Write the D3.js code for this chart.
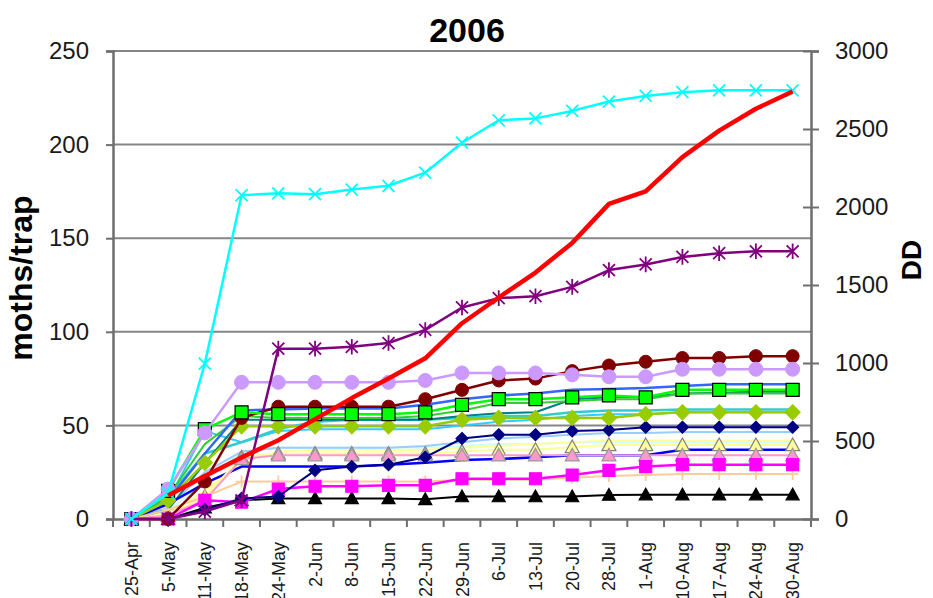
<!DOCTYPE html>
<html>
<head>
<meta charset="utf-8">
<script src="https://cdn.jsdelivr.net/npm/d3@7/dist/d3.min.js"></script>
<style>
  html, body { margin: 0; padding: 0; background: #fff; overflow: hidden; }
  svg { display: block; font-family: "Liberation Sans", Arial, sans-serif; }
</style>
</head>
<body>
<svg id="chart" width="933" height="598"></svg>
<script>
// ---- data ----
const categories = ["25-Apr","5-May","11-May","18-May","24-May","2-Jun","8-Jun","15-Jun","22-Jun","29-Jun","6-Jul","13-Jul","20-Jul","28-Jul","1-Aug","10-Aug","17-Aug","24-Aug","30-Aug"];
const leftTicks = [0, 50, 100, 150, 200, 250];
const rightTicks = [0, 500, 1000, 1500, 2000, 2500, 3000];

const lightCyan   = [0,4,20,36,38,38,38,38,38,39,40,40,41,41,41,41,41,41,41];
const lightYellow = [0,3,15,30,36,37,37,37,37,38,39,40,41,42,42,42,42,42,42];
const lightBlue   = [0,6,25,36,38,38,38,38,39,41,43,44,45,46,46,46.5,46.5,46.5,46.5];
const skyBlue     = [0,10,47,41,47,48,48,48,48,50,52,53,55,56,56,57,57,57,57];
const turquoise   = [0,12,35,41,48,52,53,53,53,54,55,55,57,58,58,58.5,58.5,58.5,58.5];
const teal        = [0,5,30,53,53,53,53,53,53,55,56.5,57,64,65,65,67,67.5,68,68];
const green2      = [0,12,40,55,54,54,54,54,55,58,62,62,63,64,64,67,67,67,67];
const royalBlue   = [0,10,35,58,58.5,59,59,59,61,64,66,67,69,69.5,70,71,72,72,72];
const blue        = [0,8,19,28,28,28,28,29,30,31.5,32,33,34,34,34,37,37,37,37];
const yellowTri   = [0,2,12,33,35,35,35,35,35,36,37,37,38.5,39.5,39.5,39.5,39.5,39.5,39.5];
const pinkTri     = [0,2,10,32,34,34,34,34,34,34,34,34,34,34,34,34,34,34,34];
const blackTri    = [0,0,6,10,11,11,11,11,10.5,12,12,12,12,12.8,13,13,13,13,13];
const magenta     = [0,0,10,9,16,17.5,17.5,18,18,21.5,21.5,21.5,23.5,26,28,29,29,29,29];
const lightOrange = [0,5,12,20,20,20,20,20,20,21,21,21,22,23,23.5,24,24,24,24];
const navy        = [0,0,5,11,12,26,28,29,33,43,45,45,47,47.5,49,49,49,49,49];
const yellowGreen = [0,10,30,49.5,49.5,49.5,49.5,49.5,49.5,53,54,54,54,54,56,57,57,57,57];
const maroon      = [0,0,20,54,60,60,60,60,64,69,74,75,79,82,84,86,86,87,87];
const greenSq     = [0,15,48,57,56,56,56,56,57,61,64,64,65,66,65,69,69,69,69];
const lavender    = [0,16,46,73,73,73,73,73,74,78,78,78,77,76,76,80,80,80,80];
const purpleStar  = [0,0,4,10,91,91,92,94,101,113,118,119,124,133,136,140,142,143,143];
const cyanX       = [0,14,83,173,174,173.5,176,178,185,201,213,214,218,223,226,228,229,229,229];
const degreeDays  = [null,150,275,395,505,640,775,900,1030,1255,1420,1580,1770,2020,2100,2320,2490,2630,2740];

// series styling (drawing order)
const series = [
  {v: lightCyan,   color: "#CCFFFF", w: 2,   m: null},
  {v: lightYellow, color: "#FFFF99", w: 2,   m: null},
  {v: lightBlue,   color: "#99CCFF", w: 2,   m: null},
  {v: skyBlue,     color: "#33CCFF", w: 2,   m: null},
  {v: turquoise,   color: "#33CCCC", w: 2.5, m: null},
  {v: teal,        color: "#008080", w: 2,   m: null},
  {v: green2,      color: "#33CC33", w: 2,   m: null},
  {v: blue,        color: "#0000FF", w: 2.5, m: null},
  {v: royalBlue,   color: "#3366FF", w: 2.5, m: null},
  {v: yellowTri,   color: "#FFFF99", w: 2,   m: "triangle", fill: "#FFFF99", stroke: "#808080", s: 7},
  {v: pinkTri,     color: "#FF99CC", w: 2,   m: "triangle", fill: "#FF99CC", stroke: "#999999", s: 7},
  {v: lightOrange, color: "#FFCC99", w: 2,   m: "plus", fill: "none", stroke: "#FFCC99", s: 6},
  {v: blackTri,    color: "#000000", w: 2,   m: "triangle", fill: "#000000", stroke: "#000000", s: 6.5},
  {v: magenta,     color: "#FF00FF", w: 2.5, m: "square", fill: "#FF00FF", stroke: "#FF00FF", s: 6},
  {v: navy,        color: "#000080", w: 2,   m: "diamond", fill: "#000080", stroke: "#000080", s: 6},
  {v: yellowGreen, color: "#99CC00", w: 2.5, m: "diamond", fill: "#99CC00", stroke: "#99CC00", s: 7.5},
  {v: maroon,      color: "#800000", w: 2.5, m: "circle", fill: "#800000", stroke: "#800000", s: 6.5},
  {v: greenSq,     color: "#00FF00", w: 2.5, m: "square", fill: "#00FF00", stroke: "#000000", s: 6.5},
  {v: lavender,    color: "#CC99FF", w: 2.5, m: "circle", fill: "#CC99FF", stroke: "#CC99FF", s: 7},
  {v: purpleStar,  color: "#800080", w: 2.5, m: "star", fill: "none", stroke: "#800080", s: 6},
  {v: cyanX,       color: "#00FFFF", w: 2.5, m: "x", fill: "none", stroke: "#00FFFF", s: 6}
];

// ---- layout ----
const svg = d3.select("#chart");
const L = 113, R = 811, T = 51, B = 519;
const x = d3.scaleBand().domain(categories).range([L, R]).padding(0);
const yL = d3.scaleLinear().domain([0, 250]).range([B, T]);
const yR = d3.scaleLinear().domain([0, 3000]).range([B, T]);
const cx = c => x(c) + x.bandwidth() / 2;
const axisColor = "#6e6e6e";
const font = "'Liberation Sans', Arial, sans-serif";

// title
svg.append("text").attr("x", 467).attr("y", 42).attr("text-anchor", "middle")
  .attr("font-size", 34).attr("font-weight", "bold").attr("fill", "#000").text("2006");

// gridlines
svg.append("g").selectAll("line").data(leftTicks.filter(d => d > 0)).join("line")
  .attr("x1", L).attr("x2", R).attr("y1", d => yL(d)).attr("y2", d => yL(d))
  .attr("stroke", "#858585").attr("stroke-width", 2);

// left axis
const gL = svg.append("g").attr("transform", `translate(${L},0)`)
  .call(d3.axisLeft(yL).tickValues(leftTicks).tickFormat(d3.format("d")).tickSize(7).tickPadding(17));
gL.select(".domain").attr("stroke", axisColor).attr("stroke-width", 2.5);
gL.selectAll(".tick line").attr("stroke", axisColor).attr("stroke-width", 2);
gL.selectAll(".tick text").attr("font-size", 24).attr("font-family", font).attr("fill", "#1a1a1a");

// right axis
const gR = svg.append("g").attr("transform", `translate(${R},0)`)
  .call(d3.axisRight(yR).tickValues(rightTicks).tickFormat(d3.format("d")).tickSize(8).tickPadding(16));
gR.select(".domain").attr("stroke", axisColor).attr("stroke-width", 2.5);
gR.selectAll(".tick line").attr("x1", -8).attr("stroke", axisColor).attr("stroke-width", 2);
gR.selectAll(".tick text").attr("font-size", 24).attr("font-family", font).attr("fill", "#1a1a1a");

// bottom axis
const gB = svg.append("g").attr("transform", `translate(0,${B})`)
  .call(d3.axisBottom(x).tickSize(0).tickPadding(0));
gB.select(".domain").attr("stroke", axisColor).attr("stroke-width", 2.5);
gB.selectAll(".tick text")
  .attr("font-size", 18).attr("font-family", font).attr("fill", "#1a1a1a")
  .attr("text-anchor", "end").attr("dy", null)
  .attr("transform", "translate(6.5,23) rotate(-90)");
const bounds = categories.map(c => x(c)).concat([R]);
svg.append("g").selectAll("line").data(bounds).join("line")
  .attr("x1", d => d).attr("x2", d => d).attr("y1", B).attr("y2", B + 8)
  .attr("stroke", axisColor).attr("stroke-width", 2);

// axis titles
svg.append("text").attr("transform", "translate(32,278) rotate(-90)")
  .attr("text-anchor", "middle").attr("font-size", 32).attr("font-weight", "bold").text("moths/trap");
svg.append("text").attr("transform", "translate(921,260) rotate(-90)")
  .attr("text-anchor", "middle").attr("font-size", 28).attr("font-weight", "bold").text("DD");

// markers
function markerPath(type, s) {
  switch (type) {
    case "square": return `M${-s},${-s}h${2*s}v${2*s}h${-2*s}Z`;
    case "diamond": return `M0,${-s}L${s},0L0,${s}L${-s},0Z`;
    case "triangle": return `M0,${-s}L${s},${s*0.8}L${-s},${s*0.8}Z`;
    case "x": return `M${-s},${-s}L${s},${s}M${s},${-s}L${-s},${s}`;
    case "plus": return `M${-s},0L${s},0M0,${-s}L0,${s}`;
    case "star": return `M${-s},${-s}L${s},${s}M${s},${-s}L${-s},${s}M0,${-s*1.3}L0,${s*1.3}`;
  }
  return "";
}

const lineL = d3.line().defined(d => d.v != null).x(d => cx(d.c)).y(d => yL(d.v));
const plot = svg.append("g");
series.forEach(s => {
  const pts = categories.map((c, i) => ({c, v: s.v[i]}));
  const g = plot.append("g");
  g.append("path").datum(pts).attr("d", lineL).attr("fill", "none")
    .attr("stroke", s.color).attr("stroke-width", s.w).attr("stroke-linejoin", "round");
  if (s.m === "circle") {
    g.selectAll("circle").data(pts).join("circle")
      .attr("cx", d => cx(d.c)).attr("cy", d => yL(d.v)).attr("r", s.s)
      .attr("fill", s.fill).attr("stroke", s.stroke).attr("stroke-width", 1);
  } else if (s.m) {
    const open = (s.m === "x" || s.m === "plus" || s.m === "star");
    g.selectAll("path.mk").data(pts).join("path").attr("class", "mk")
      .attr("transform", d => `translate(${cx(d.c)},${yL(d.v)})`)
      .attr("d", markerPath(s.m, s.s))
      .attr("fill", s.fill).attr("stroke", s.stroke)
      .attr("stroke-width", open ? 1.8 : 1.2);
  }
});

// degree days (secondary axis)
const lineR = d3.line().defined(d => d.v != null).x(d => cx(d.c)).y(d => yR(d.v));
plot.append("path").datum(categories.map((c, i) => ({c, v: degreeDays[i]})))
  .attr("d", lineR).attr("fill", "none").attr("stroke", "#FF0000")
  .attr("stroke-width", 4.5).attr("stroke-linejoin", "round");
</script>
</body>
</html>
